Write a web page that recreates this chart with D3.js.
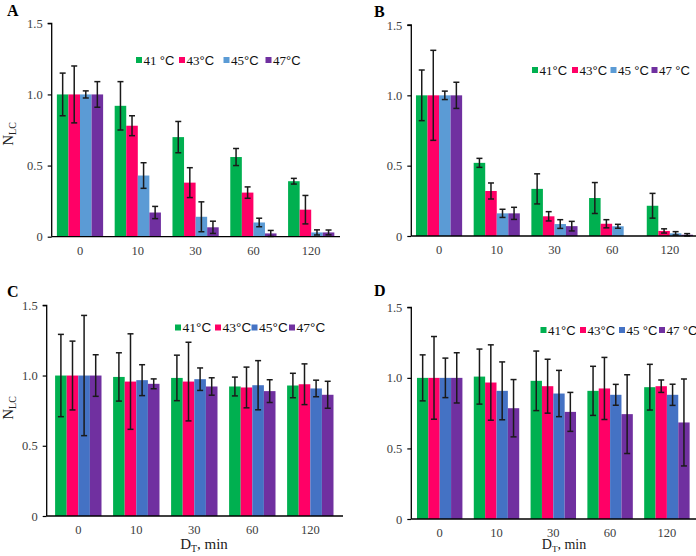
<!DOCTYPE html>
<html><head><meta charset="utf-8">
<script src="https://cdn.jsdelivr.net/npm/d3@7/dist/d3.min.js"></script>
<style>
body{margin:0;background:#fff}svg{display:block}
.serif{font-family:"Liberation Serif","Times New Roman",Times,serif}
.sans{font-family:"Liberation Sans",Arial,Helvetica,sans-serif}
</style>
</head><body>
<svg id="chart" width="696" height="556"></svg>
<script>
// ---------- data ----------
const categories = ["0", "10", "30", "60", "120"];
const series = ["41", "43", "45", "47"];
const yTicks = [0, 0.5, 1.0, 1.5];

const legendA = ["41 °C", "43°C", "45°C", "47°C"];
const legendB = ["41°C", "43°C", "45 °C", "47 °C"];
const legendC = ["41°C", "43°C", "45°C", "47°C"];
const legendD = ["41°C", "43°C", "45 °C", "47 °C"];

// panel A
const A_41 = [1.00, 0.92, 0.70, 0.56, 0.39];
const A_43 = [1.00, 0.78, 0.38, 0.31, 0.19];
const A_45 = [1.00, 0.43, 0.14, 0.10, 0.03];
const A_47 = [1.00, 0.17, 0.066, 0.023, 0.03];
const A_41e = [0.15, 0.17, 0.11, 0.06, 0.02];
const A_43e = [0.20, 0.07, 0.105, 0.04, 0.10];
const A_45e = [0.025, 0.09, 0.105, 0.03, 0.018];
const A_47e = [0.09, 0.043, 0.043, 0.021, 0.017];
// panel B
const B_41 = [1.00, 0.52, 0.335, 0.27, 0.215];
const B_43 = [1.00, 0.32, 0.14, 0.087, 0.036];
const B_45 = [1.00, 0.161, 0.085, 0.069, 0.019];
const B_47 = [1.00, 0.161, 0.07, null, 0.009];
const B_41e = [0.18, 0.032, 0.107, 0.11, 0.088];
const B_43e = [0.32, 0.057, 0.033, 0.029, 0.015];
const B_45e = [0.03, 0.029, 0.031, 0.014, 0.012];
const B_47e = [0.093, 0.043, 0.034, null, 0.008];
// panel C
const C_41 = [1.00, 0.99, 0.983, 0.922, 0.929];
const C_43 = [1.00, 0.957, 0.957, 0.915, 0.938];
const C_45 = [1.00, 0.967, 0.974, 0.931, 0.908];
const C_47 = [1.00, 0.941, 0.922, 0.889, 0.863];
const C_41e = [0.293, 0.172, 0.162, 0.067, 0.087];
const C_43e = [0.245, 0.34, 0.28, 0.145, 0.145];
const C_45e = [0.428, 0.11, 0.08, 0.175, 0.059];
const C_47e = [0.148, 0.035, 0.062, 0.081, 0.096];
// panel D
const D_41 = [1.00, 1.009, 0.979, 0.908, 0.934];
const D_43 = [1.00, 0.967, 0.941, 0.925, 0.941];
const D_45 = [1.00, 0.908, 0.889, 0.88, 0.88];
const D_47 = [1.00, 0.785, 0.759, 0.743, 0.684];
const D_41e = [0.163, 0.195, 0.211, 0.174, 0.162];
const D_43e = [0.293, 0.267, 0.191, 0.22, 0.044];
const D_45e = [0.14, 0.205, 0.164, 0.074, 0.075];
const D_47e = [0.178, 0.203, 0.138, 0.279, 0.308];

const colorsAB = ["#00b050", "#ff0066", "#5b9bd5", "#7030a0"];
const colorsCD = ["#00b050", "#ff0066", "#4472c4", "#7030a0"];

// ---------- layout ----------
const panels = [
  {letter: "A", lx: 7, ly: 16, axisX: 51.7, x0: 51.1, x1: 340.1, axisEnd: 340, y0: 236.7, y15: 23.3,
   vals: [A_41, A_43, A_45, A_47], errs: [A_41e, A_43e, A_45e, A_47e], colors: colorsAB,
   legend: legendA, legXs: [136, 179, 223.5, 265.5], legY: 60, legFs: 13, ylab: {x: 13, y: 134}, xlab: null},
  {letter: "B", lx: 374, ly: 16.5, axisX: 411.3, x0: 410.2, x1: 698.7, axisEnd: 700, y0: 236, y15: 25,
   vals: [B_41, B_43, B_45, B_47], errs: [B_41e, B_43e, B_45e, B_47e], colors: colorsAB,
   legend: legendB, legXs: [532, 572, 610.5, 651.5], legY: 70, legFs: 13, ylab: null, xlab: null},
  {letter: "C", lx: 7, ly: 296.5, axisX: 46.7, x0: 49.3, x1: 339.3, axisEnd: 343, y0: 516, y15: 305.3,
   vals: [C_41, C_43, C_45, C_47], errs: [C_41e, C_43e, C_45e, C_47e], colors: colorsCD,
   legend: legendC, legXs: [175, 215, 251.5, 289], legY: 327.5, legFs: 13.5, ylab: {x: 13, y: 408}, xlab: {x: 204, y: 549, fs: 15}},
  {letter: "D", lx: 374, ly: 296, axisX: 411.3, x0: 411.3, x1: 695.3, axisEnd: 696, y0: 519, y15: 307.3,
   vals: [D_41, D_43, D_45, D_47], errs: [D_41e, D_43e, D_45e, D_47e], colors: colorsCD,
   legend: legendD, legXs: [540.5, 580, 619, 659], legY: 330, legFs: 13, ylab: null, xlab: {x: 564, y: 549, fs: 14}}
];

const svg = d3.select("#chart");
svg.append("rect").attr("width", 696).attr("height", 556).attr("fill", "#fff");

panels.forEach(p => {
  const g = svg.append("g");
  const x = d3.scaleBand().domain(categories).range([p.x0, p.x1]).padding(0);
  const inner = d3.scaleBand().domain(series)
    .range([-x.bandwidth() * 0.4, x.bandwidth() * 0.4]).padding(0);
  const y = d3.scaleLinear().domain([0, 1.5]).range([p.y0, p.y15]);

  // bars
  series.forEach((s, si) => {
    const vals = p.vals[si];
    categories.forEach((c, ci) => {
      const v = vals[ci];
      if (v == null) return;
      const cx = x(c) + x.bandwidth() / 2;
      g.append("rect")
        .attr("x", cx + inner(s))
        .attr("y", y(v))
        .attr("width", inner.bandwidth())
        .attr("height", y(0) - y(v))
        .attr("fill", p.colors[si]);
    });
  });
  // error bars
  series.forEach((s, si) => {
    const vals = p.vals[si], errs = p.errs[si];
    categories.forEach((c, ci) => {
      const v = vals[ci], e = errs[ci];
      if (v == null || e == null) return;
      const bx = x(c) + x.bandwidth() / 2 + inner(s) + inner.bandwidth() / 2;
      const yt = y(v + e), yb = y(Math.max(0, v - e));
      const eg = g.append("g").attr("stroke", "#1a1a1a").attr("stroke-width", 1.5);
      eg.append("line").attr("x1", bx).attr("x2", bx).attr("y1", yt).attr("y2", yb);
      eg.append("line").attr("x1", bx - 3).attr("x2", bx + 3).attr("y1", yt).attr("y2", yt);
      eg.append("line").attr("x1", bx - 3).attr("x2", bx + 3).attr("y1", yb).attr("y2", yb);
    });
  });

  // y axis
  const yAxis = d3.axisLeft(y).tickValues(yTicks).tickSize(4).tickPadding(5)
    .tickFormat(d => d === 0 ? "0" : d3.format(".1f")(d));
  const ya = g.append("g").attr("transform", `translate(${p.axisX},0)`).call(yAxis);
  ya.attr("font-family", null).attr("font-size", null);
  ya.select(".domain").attr("d", `M-4,${y(1.5)}H0V${y(0)}`).attr("stroke", "#000").attr("stroke-width", 1.3);
  ya.selectAll(".tick line").attr("stroke", "#000").attr("stroke-width", 1.2);
  ya.selectAll(".tick text").attr("class", "serif").style("font-size", "12.5px").attr("fill", "#404040");

  // x axis
  const xAxis = d3.axisBottom(x).tickSize(0).tickPadding(9);
  const xa = g.append("g").attr("transform", `translate(0,${p.y0})`).call(xAxis);
  xa.attr("font-family", null).attr("font-size", null);
  xa.select(".domain").attr("d", `M${p.axisX},0H${p.axisEnd}`).attr("stroke", "#000").attr("stroke-width", 1.3);
  xa.selectAll(".tick text").attr("class", "serif").style("font-size", "12.5px").attr("fill", "#404040");

  // panel letter
  g.append("text").attr("x", p.lx).attr("y", p.ly).text(p.letter).attr("class", "serif")
    .style("font-weight", "bold").style("font-size", "16px").attr("fill", "#000");

  // y label
  if (p.ylab) {
    const t = g.append("text").attr("class", "serif")
      .attr("transform", `translate(${p.ylab.x},${p.ylab.y}) rotate(-90)`)
      .attr("text-anchor", "middle").style("font-size", "15px").attr("fill", "#222");
    t.append("tspan").text("N");
    t.append("tspan").text("LC").style("font-size", "10px").attr("dy", 3);
  }
  // x label
  if (p.xlab) {
    const t = g.append("text").attr("class", "serif").attr("x", p.xlab.x).attr("y", p.xlab.y)
      .attr("text-anchor", "middle").style("font-size", p.xlab.fs + "px").attr("fill", "#222");
    t.append("tspan").text("D");
    t.append("tspan").text("T").style("font-size", (p.xlab.fs * 0.65) + "px").attr("dy", 3);
    t.append("tspan").text(", min").attr("dy", -3);
  }

  // legend
  p.legend.forEach((lab, i) => {
    const lx = p.legXs[i];
    g.append("rect").attr("x", lx).attr("y", p.legY - 3).attr("width", 6).attr("height", 6).attr("fill", p.colors[i]);
    const m = lab.match(/^(\d+)(\s*)(°C)$/);
    const t = g.append("text").attr("x", lx + 7.5).attr("y", p.legY + p.legFs * 0.36)
      .style("font-size", p.legFs + "px").attr("fill", "#111").style("white-space", "pre");
    t.append("tspan").attr("class", "serif").text(m[1] + (m[2] ? "\u00a0" : ""));
    t.append("tspan").attr("class", "sans").text(m[3]);
  });
});
</script>
</body></html>
